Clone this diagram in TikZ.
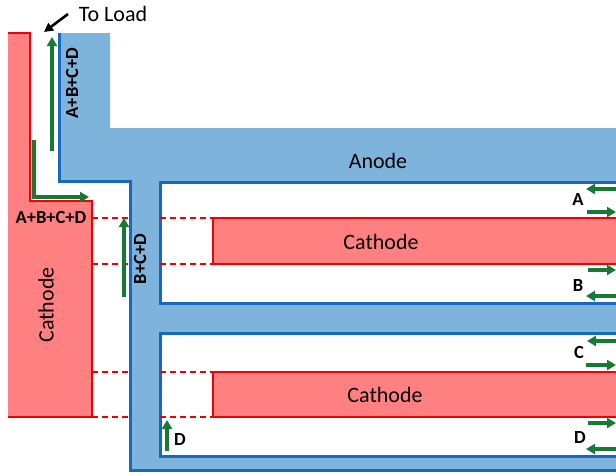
\documentclass[tikz,border=0pt]{standalone}
\usepackage{fontspec}
\setmainfont{Carlito}
\usetikzlibrary{arrows.meta}
\definecolor{anfill}{RGB}{126,179,220}
\definecolor{anline}{RGB}{24,104,192}
\definecolor{cafill}{RGB}{255,128,128}
\definecolor{caline}{RGB}{240,0,0}
\definecolor{gr}{RGB}{22,122,52}
\tikzset{
  anodeline/.style={draw=anline,line width=3pt},
  cathline/.style={draw=caline,line width=2.6pt},
  cathdash/.style={draw=caline,line width=2.6pt,dash pattern=on 6pt off 4pt},
  garrow/.style={draw=gr,line width=3.4pt,-{Triangle[length=9pt,width=10pt]}},
  bigtxt/.style={font=\fontsize{22}{24}\selectfont,inner sep=0pt},
  lbl/.style={font=\bfseries\fontsize{18.5}{20}\selectfont,inner sep=0pt},
}
\begin{document}
\begin{tikzpicture}[x=1pt,y=-1pt]
\useasboundingbox (0,0) rectangle (616,475);
% anode fill
\fill[anfill] (59,33) -- (110,33) -- (110,128) -- (616,128) -- (616,182) -- (160,182) -- (160,303) -- (616,303) -- (616,333) -- (160,333) -- (160,456) -- (616,456) -- (616,470) -- (130,470) -- (130,181) -- (59,181) -- cycle;
\draw[anodeline] (59,33) -- (59,181) -- (130,181) -- (130,470) -- (616,470);
\draw[anodeline] (616,182) -- (160,182) -- (160,303) -- (616,303);
\draw[anodeline] (616,333) -- (160,333) -- (160,456) -- (616,456);
% cathodes
\fill[cafill] (8,33) -- (30,33) -- (30,201) -- (92,201) -- (92,417) -- (8,417) -- cycle;
\draw[cathline] (8,33) -- (30,33) -- (30,201) -- (92,201) -- (92,417) -- (8,417);
\fill[cafill] (213,218) rectangle (616,264);
\draw[cathline] (616,218) -- (213,218) -- (213,264) -- (616,264);
\fill[cafill] (213,372) rectangle (616,417);
\draw[cathline] (616,372) -- (213,372) -- (213,417) -- (616,417);
\foreach \yy in {218,264,372,417}{
  \draw[cathdash] (92,\yy) -- (130,\yy);
  \draw[cathdash] (160,\yy) -- (213,\yy);
}
% texts
\node[bigtxt] (anode) at (378,161) {Anode};
\node[bigtxt] (cat1) at (381,242) {Cathode};
\node[bigtxt] (cat2) at (385,395) {Cathode};
\node[bigtxt,rotate=90] (cat0) at (46,305) {Cathode};
\node[bigtxt] (load) at (113,14) {To Load};
\node[lbl,rotate=90] (sum1) at (72,83) {A+B+C+D};
\node[lbl] (sum2) at (51,217) {A+B+C+D};
\node[lbl,rotate=90] (sum3) at (140,259) {B+C+D};
\node[lbl] (la) at (578,199) {A};
\node[lbl] (lb) at (578,285) {B};
\node[lbl] (lc) at (579,352) {C};
\node[lbl] (ld) at (580,437) {D};
\node[lbl] (ld2) at (180,439) {D};
% coordinates for arrows
\coordinate (tl1) at (68,14);
\coordinate (tl2) at (44,32);
\draw[line width=2.6pt,-{Triangle[length=9pt,width=9pt]}] (tl1) -- (tl2);
\coordinate (g1a) at (52,151); \coordinate (g1b) at (52,37);
\draw[garrow] (g1a) -- (g1b);
\coordinate (g2a) at (34,140); \coordinate (g2m) at (34,197); \coordinate (g2b) at (89,197);
\draw[garrow] (g2a) -- (g2m) -- (g2b);
\coordinate (g3a) at (124,297); \coordinate (g3b) at (124,218);
\draw[garrow] (g3a) -- (g3b);
\coordinate (g4a) at (167,451); \coordinate (g4b) at (167,420);
\draw[garrow] (g4a) -- (g4b);
% right side arrows
\coordinate (ra1) at (616,189); \coordinate (ra2) at (586,189);
\draw[garrow] (ra1) -- (ra2);
\coordinate (ra3) at (587,212); \coordinate (ra4) at (616,212);
\draw[garrow] (ra3) -- (ra4);
\coordinate (rb1) at (588,270); \coordinate (rb2) at (616,270);
\draw[garrow] (rb1) -- (rb2);
\coordinate (rb3) at (616,296); \coordinate (rb4) at (586,296);
\draw[garrow] (rb3) -- (rb4);
\coordinate (rc1) at (616,341); \coordinate (rc2) at (587,341);
\draw[garrow] (rc1) -- (rc2);
\coordinate (rc3) at (586,365); \coordinate (rc4) at (616,365);
\draw[garrow] (rc3) -- (rc4);
\coordinate (rd1) at (588,423); \coordinate (rd2) at (616,423);
\draw[garrow] (rd1) -- (rd2);
\coordinate (rd3) at (616,449); \coordinate (rd4) at (586,449);
\draw[garrow] (rd3) -- (rd4);
\end{tikzpicture}
\end{document}
